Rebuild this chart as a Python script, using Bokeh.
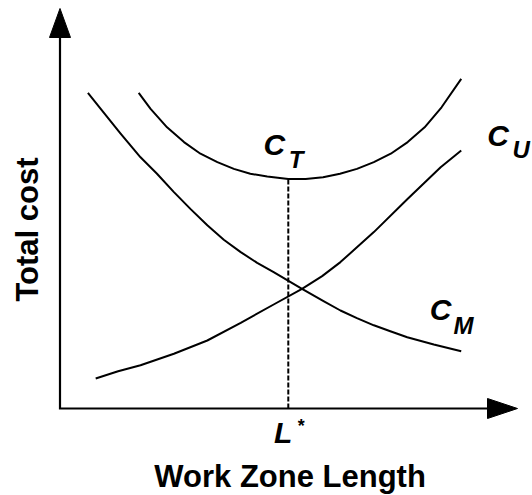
import math
from bokeh.plotting import figure
from bokeh.models import Range1d, Label
from bokeh.embed import file_html
from bokeh.resources import INLINE

# ---- data (work zone length vs cost, arbitrary units) ----
cm_x = [6.1, 8.9, 13.2, 17.6, 21.2, 24.9, 28.5, 32.2, 35.8, 39.5, 43.1, 46.7,
        52.9, 57.7, 61.3, 64.9, 68.6, 72.2, 75.9, 81.7, 87.7]
cm_y = [78.9, 74.9, 68.8, 62.8, 58.7, 54.1, 49.9, 45.8, 42.2, 39.1, 36.4, 34.1,
        29.9, 26.8, 24.5, 22.6, 20.8, 19.3, 17.8, 16.0, 14.3]
cu_x = [7.8, 12.7, 17.6, 24.9, 32.2, 39.5, 46.7, 52.9, 57.3, 61.3, 68.6, 75.9,
        83.2, 87.7]
cu_y = [7.5, 9.3, 10.8, 13.7, 17.0, 21.4, 26.0, 29.9, 33.1, 36.6, 44.1, 52.3,
        60.3, 64.5]
ct_x = [17.2, 19.8, 23.4, 27.1, 30.7, 34.4, 38.0, 41.6, 45.3, 49.9, 53.7,
        57.5, 61.2, 64.9, 68.6, 72.3, 76.0, 79.7, 83.4, 87.7]
ct_y = [78.9, 74.9, 70.3, 66.6, 63.7, 61.6, 59.9, 58.7, 58.0, 57.4, 57.4,
        57.8, 58.7, 59.9, 61.6, 63.7, 66.6, 70.3, 75.3, 82.4]
l_star = 49.9
ct_min = 57.4
axis_max_x = 100
axis_max_y = 100
x_label = "Work Zone Length"
y_label = "Total cost"

# ---- layout ----
W, H = 532, 495
PX_X, PX_Y = 4.575, 4.0          # pixels per data unit
ORIG_X, ORIG_Y = 59.5, 408       # canvas position of the axes origin (from top-left)

p = figure(width=W, height=H, output_backend="svg", toolbar_location=None,
           x_range=Range1d(-ORIG_X / PX_X, (W - ORIG_X) / PX_X),
           y_range=Range1d(-(H - ORIG_Y) / PX_Y, ORIG_Y / PX_Y),
           x_axis_location=None, y_axis_location=None,
           min_border=0, min_border_left=0, min_border_right=0,
           min_border_top=0, min_border_bottom=0)
p.grid.visible = False
p.outline_line_color = None
p.background_fill_color = "white"
p.border_fill_color = "white"

# axes
head_len_x, head_half_x = 30 / PX_X, 10 / PX_Y
head_len_y, head_half_y = 29 / PX_Y, 10.5 / PX_X
p.line([0, 0, axis_max_x - head_len_x], [axis_max_y - head_len_y, 0, 0],
       line_color="black", line_width=2.2, line_join="miter")
p.patches(
    [[axis_max_x - head_len_x, axis_max_x, axis_max_x - head_len_x],
     [-head_half_y, 0, head_half_y]],
    [[-head_half_x, 0, head_half_x],
     [axis_max_y - head_len_y, axis_max_y, axis_max_y - head_len_y]],
    fill_color="black", line_color="black", line_width=1)

# dashed optimum line
p.line([l_star, l_star], [0, ct_min], line_color="black", line_width=2,
       line_dash="5 2")

# curves
for xs, ys in ((ct_x, ct_y), (cm_x, cm_y), (cu_x, cu_y)):
    p.line(xs, ys, line_color="black", line_width=2, line_join="round")

FONT = "Liberation Sans"
LIFT = 0.33  # baseline correction (em) observed for this renderer

def lab(x, y, text, size, style="bold italic", angle=0.0, **kw):
    # shift along the text's own "up" direction
    dx = -math.sin(angle) * LIFT * size / PX_X
    dy = math.cos(angle) * LIFT * size / PX_Y
    p.add_layout(Label(x=x + dx, y=y + dy, text=text, text_font=FONT,
                       text_font_size=f"{size}px", text_font_style=style,
                       text_color="black", text_baseline="alphabetic",
                       angle=angle, angle_units="rad", **kw))

# curve labels
lab(44.5, 63.6, "C", 30)
lab(50.0, 60.3, "T", 24)
lab(80.8, 22.4, "C", 30)
lab(86.0, 18.7, "M", 24)
lab(93.4, 65.75, "C", 30)
lab(98.9, 62.8, "U", 24)
lab(l_star - 3.1, -8.5, "L", 30)
lab(l_star + 1.9, -5.75, "*", 18)

# axis titles
lab(50.3, -19.5, x_label, 31, style="bold", text_align="center")
lab(-4.85, 44.75, y_label, 31, style="bold", text_align="center",
    angle=math.pi / 2)

open("out.html", "w").write(file_html(p, INLINE))
